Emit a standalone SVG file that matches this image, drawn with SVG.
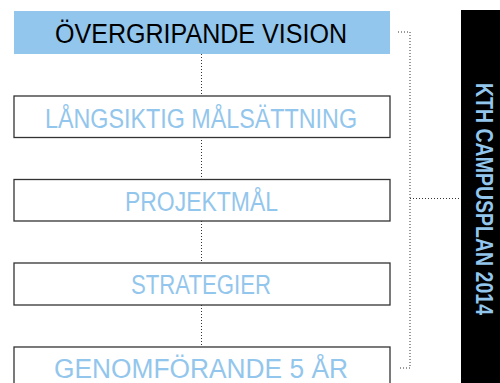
<svg xmlns="http://www.w3.org/2000/svg" width="500" height="383" viewBox="0 0 500 383">
<style>
.box{fill:#fff;stroke:#333;stroke-width:1.3}
.lbl{font-family:"Liberation Sans",Arial,sans-serif;font-size:27px;fill:#93c6ec;text-anchor:middle}
.dot{fill:none;stroke:#333;stroke-width:1;stroke-dasharray:1 2}
</style>
<rect width="500" height="383" fill="#fff"/>
<g id="connectors">
<path class="dot" d="M201.5 54V96M201.5 137V179M201.5 221V263M201.5 305V347"/>
<path class="dot" d="M398 32H410V368H398M410 198.5H461"/>
</g>
<g id="vision">
<rect x="14" y="11" width="376" height="43" fill="#92c6ec"/>
<text class="lbl" x="201" y="42.5" style="fill:#000" textLength="292" lengthAdjust="spacingAndGlyphs">ÖVERGRIPANDE VISION</text>
</g>
<g id="malsattning">
<rect class="box" x="14" y="96" width="376" height="41.5"/>
<text class="lbl" x="201" y="127.5" textLength="312" lengthAdjust="spacingAndGlyphs">LÅNGSIKTIG MÅLSÄTTNING</text>
</g>
<g id="projektmal">
<rect class="box" x="14" y="179.5" width="376" height="41.5"/>
<text class="lbl" x="201.5" y="210.8" textLength="153" lengthAdjust="spacingAndGlyphs">PROJEKTMÅL</text>
</g>
<g id="strategier">
<rect class="box" x="14" y="263" width="376" height="42"/>
<text class="lbl" x="201" y="294" textLength="140" lengthAdjust="spacingAndGlyphs">STRATEGIER</text>
</g>
<g id="genomforande">
<rect class="box" x="14" y="347" width="376" height="42"/>
<text class="lbl" x="201" y="378" textLength="294" lengthAdjust="spacingAndGlyphs">GENOMFÖRANDE 5 ÅR</text>
</g>
<g id="kth">
<rect x="461" y="10" width="39" height="373" fill="#000"/>
<text transform="translate(475.5,199) rotate(90)" x="0" y="0" style="font-family:'Liberation Sans',Arial,sans-serif;font-size:23px;font-weight:bold;fill:#93c6ec;text-anchor:middle" textLength="232" lengthAdjust="spacingAndGlyphs">KTH CAMPUSPLAN 2014</text>
</g>
</svg>
